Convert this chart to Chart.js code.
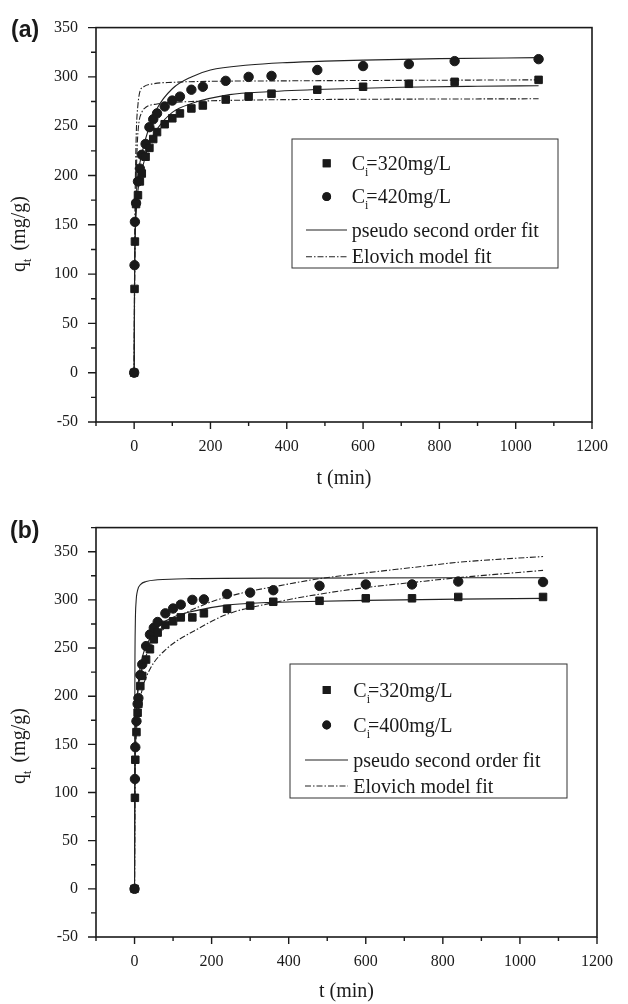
<!DOCTYPE html>
<html>
<head>
<meta charset="utf-8">
<script src="https://cdn.jsdelivr.net/npm/chart.js@4.4.1/dist/chart.umd.min.js"></script>
<style>
  html, body { margin: 0; padding: 0; background: #fff; }
  #wrap { position: relative; width: 628px; height: 1004px; }
  .painel { position: absolute; left: 0; width: 628px; }
</style>
</head>
<body>
<div id="wrap">
  <div class="painel" style="top:0;height:500px"><canvas id="graficoA"></canvas></div>
  <div class="painel" style="top:500px;height:504px"><canvas id="graficoB"></canvas></div>
</div>
<script>
// eixos
const xTicks = [0, 200, 400, 600, 800, 1000, 1200];
const yTicks = [-50, 0, 50, 100, 150, 200, 250, 300, 350];

// (a) pontos experimentais
const tempoA = [0, 1, 2, 5, 10, 15, 20, 30, 40, 50, 60, 80, 100, 120, 150, 180, 240, 300, 360, 480, 600, 720, 840, 1060];
const q320A = [0, 85, 133, 171, 180, 194, 202, 219, 228, 237, 244, 252, 258, 263, 268, 271, 277, 280, 283, 287, 290, 293, 295, 297];
const q420A = [0, 109, 153, 172, 194, 207, 221, 232, 249, 257, 263, 270, 276, 280, 287, 290, 296, 300, 301, 307, 311, 313, 316, 318];

// (a) ajustes
const tPso420A = [0, 1, 3, 5, 10, 20, 40, 60, 100, 150, 200, 300, 400, 500, 600, 800, 1060];
const qPso420A = [0, 95, 150, 175, 200, 222, 250, 268, 288, 300, 307, 312, 314.5, 316, 317, 318.5, 319.5];
const tPso320A = [0, 1, 3, 5, 10, 20, 30, 40, 60, 100, 150, 250, 350, 500, 700, 900, 1060];
const qPso320A = [0, 85, 140, 160, 185, 205, 220, 233, 247, 264, 273, 282, 285, 287.5, 289.5, 290.5, 291];
const tElo420A = [0, 1, 2, 4, 6, 10, 15, 25, 50, 100, 200, 400, 700, 1060];
const qElo420A = [0, 100, 160, 215, 248, 272, 285, 290, 293, 294.5, 295.5, 296, 296.5, 297];
const tElo320A = [0, 2, 5, 8, 12, 20, 30, 60, 150, 300, 600, 1060];
const qElo320A = [0, 120, 190, 230, 252, 264, 269, 272.5, 275, 276.5, 277.3, 277.8];

// (b) pontos experimentais
const tempoB = [0, 1, 2, 5, 8, 10, 15, 20, 30, 40, 50, 60, 80, 100, 120, 150, 180, 240, 300, 360, 480, 600, 720, 840, 1060];
const q320B = [0, 94.5, 134, 162.7, 182.8, 192, 210.5, 221, 238, 248.7, 259, 266, 274, 277.7, 281.8, 281.8, 286, 290.7, 294, 298, 299, 301.6, 301.6, 303, 303];
const q400B = [0, 114, 147, 174, 192, 198, 222, 233, 252, 264, 271, 277, 286, 291, 295, 300, 300.5, 306, 307.5, 310, 314.5, 316, 316, 319, 318.5];

// (b) ajustes
const tPso400B = [0, 0.5, 1, 2, 4, 8, 16, 30, 60, 150, 400, 1060];
const qPso400B = [0, 150, 230, 275, 298, 310, 316, 319, 320.8, 322, 322.6, 323];
const tPso320B = [0, 1, 2, 5, 10, 20, 30, 50, 60, 100, 150, 240, 330, 420, 600, 840, 1060];
const qPso320B = [0, 95, 135, 180, 215, 240, 252, 266, 272, 282, 288, 294.5, 297, 298, 299.5, 300.8, 301.5];
const tElo400B = [0, 1, 2, 5, 10, 20, 50, 100, 180, 240, 300, 360, 480, 600, 720, 840, 1060];
const qElo400B = [0, 140, 160, 188, 209, 230, 257, 278, 295, 303, 309, 313.5, 322, 328, 333.5, 339, 345];
const tElo320B = [0, 1, 2, 5, 10, 20, 40, 80, 165, 240, 360, 480, 600, 720, 840, 1060];
const qElo320B = [0, 110, 135, 163, 185, 207, 228, 248, 270, 285, 297, 305.9, 312.8, 318, 323, 330.6];

const serif = "'Liberation Serif', 'Times New Roman', serif";
const tinta = '#1a1a1a';

const pts = (ts, qs) => ts.map((t, i) => ({ x: t, y: qs[i] }));

function pontos(label, ts, qs, estilo) {
  return {
    label, data: pts(ts, qs), showLine: false, inLegend: true,
    pointStyle: estilo, pointRadius: estilo === 'rect' ? 5.3 : 4.7,
    backgroundColor: tinta, borderColor: tinta, borderWidth: 1
  };
}

function curva(label, ts, qs, tracejado, legenda) {
  return {
    label, data: pts(ts, qs), showLine: true, inLegend: legenda,
    pointRadius: 0, borderWidth: 1.1, borderColor: '#222',
    borderDash: tracejado ? [6, 2, 1.5, 2] : [],
    cubicInterpolationMode: 'monotone', fill: false
  };
}

// texto com subscrito: "C_i=320" -> C, i, =320
function textoSub(ctx, s, x, y, size) {
  const k = s.indexOf('_');
  ctx.font = size + 'px ' + serif;
  if (k < 0) { ctx.fillText(s, x, y); return; }
  const a = s.slice(0, k), sub = s[k + 1], resto = s.slice(k + 2);
  ctx.fillText(a, x, y);
  let w = ctx.measureText(a).width;
  ctx.font = Math.round(size * 0.62) + 'px ' + serif;
  ctx.fillText(sub, x + w, y + size * 0.3);
  w += ctx.measureText(sub).width * 0.4;
  ctx.font = size + 'px ' + serif;
  ctx.fillText(resto, x + w, y);
}

function larguraSub(ctx, s, size) {
  const k = s.indexOf('_');
  ctx.font = size + 'px ' + serif;
  if (k < 0) return ctx.measureText(s).width;
  let w = ctx.measureText(s.slice(0, k)).width + ctx.measureText(s.slice(k + 2)).width;
  ctx.font = Math.round(size * 0.62) + 'px ' + serif;
  return w + ctx.measureText(s[k + 1]).width;
}

function menores(ticks, min, max) {
  const passo = ticks[1] - ticks[0];
  const out = [];
  for (let v = ticks[0] - passo / 2; v <= max; v += passo) if (v >= min) out.push(v);
  return out;
}

const deco = {
  id: 'deco',
  afterDraw(chart, args, o) {
    const ctx = chart.ctx, a = chart.chartArea;
    const xs = chart.scales.x, ys = chart.scales.y;
    ctx.save();
    ctx.strokeStyle = tinta;
    ctx.fillStyle = tinta;

    // moldura
    ctx.lineWidth = 1.6;
    ctx.strokeRect(a.left, a.top, a.right - a.left, a.bottom - a.top);

    // marcas dos eixos
    ctx.lineWidth = 1.4;
    ctx.beginPath();
    xTicks.forEach(v => { const p = xs.getPixelForValue(v); ctx.moveTo(p, a.bottom); ctx.lineTo(p, a.bottom + 7); });
    menores(xTicks, xs.min, xs.max).forEach(v => { const p = xs.getPixelForValue(v); ctx.moveTo(p, a.bottom); ctx.lineTo(p, a.bottom + 4); });
    yTicks.forEach(v => { const p = ys.getPixelForValue(v); ctx.moveTo(a.left, p); ctx.lineTo(a.left - 8, p); });
    menores(yTicks, ys.min, ys.max).forEach(v => { const p = ys.getPixelForValue(v); ctx.moveTo(a.left, p); ctx.lineTo(a.left - 5, p); });
    ctx.stroke();

    // letra do painel
    ctx.font = 'bold 23px "Liberation Sans", Arial, sans-serif';
    ctx.textBaseline = 'middle';
    ctx.textAlign = 'left';
    ctx.fillText(o.painel, o.painelX, o.painelY);

    // titulos dos eixos
    ctx.textBaseline = 'alphabetic';
    ctx.font = '20px ' + serif;
    ctx.textAlign = 'center';
    ctx.fillText(o.tituloX, (a.left + a.right) / 2, o.tituloXY);

    ctx.save();
    ctx.translate(o.tituloYX, o.tituloYY);
    ctx.rotate(-Math.PI / 2);
    ctx.textAlign = 'left';
    const wy = larguraSub(ctx, o.tituloY, 20);
    textoSub(ctx, o.tituloY, -wy / 2, 0, 20);
    ctx.restore();

    // legenda
    const L = o.legenda;
    ctx.lineWidth = 1;
    ctx.strokeStyle = '#333';
    ctx.strokeRect(L.x, L.y, L.w, L.h);
    const itens = chart.data.datasets.filter(d => d.inLegend);
    itens.forEach((d, i) => {
      const y = L.linhas[i];
      if (d.showLine) {
        ctx.save();
        ctx.strokeStyle = '#222';
        ctx.lineWidth = 1.1;
        ctx.setLineDash(d.borderDash);
        ctx.beginPath();
        ctx.moveTo(L.x0, y); ctx.lineTo(L.x1, y);
        ctx.stroke();
        ctx.restore();
      } else {
        Chart.helpers.drawPoint(ctx, { pointStyle: d.pointStyle, radius: d.pointStyle === 'rect' ? 5.6 : 4.4, rotation: 0, borderWidth: 0 }, L.xm, y);
        ctx.fillStyle = tinta;
        ctx.fill();
      }
      ctx.fillStyle = tinta;
      ctx.textAlign = 'left';
      textoSub(ctx, d.label, L.xt, y + 6.7, 20);
    });
    ctx.restore();
  }
};

function montar(id, cfg) {
  return new Chart(document.getElementById(id), {
    type: 'scatter',
    data: { datasets: cfg.datasets },
    options: {
      responsive: true,
      maintainAspectRatio: false,
      animation: false,
      events: [],
      layout: { padding: cfg.padding },
      plugins: { legend: { display: false }, tooltip: { enabled: false }, deco: cfg.deco },
      scales: {
        x: {
          type: 'linear', min: -100, max: 1200,
          afterBuildTicks: s => { s.ticks = xTicks.map(v => ({ value: v })); },
          afterFit: s => { s.height = cfg.alturaX; },
          grid: { display: false, drawTicks: false },
          border: { display: false },
          ticks: { color: tinta, padding: 15, maxRotation: 0, font: { family: serif, size: 16 }, callback: v => String(v) }
        },
        y: {
          type: 'linear', min: -50, max: cfg.yMax,
          afterBuildTicks: s => { s.ticks = yTicks.map(v => ({ value: v })); },
          afterFit: s => { s.width = 96; },
          grid: { display: false, drawTicks: false },
          border: { display: false },
          ticks: { color: tinta, padding: 18, font: { family: serif, size: 16 }, callback: v => String(v) }
        }
      }
    },
    plugins: [deco]
  });
}

montar('graficoA', {
  yMax: 350,
  alturaX: 78,
  padding: { top: 20, right: 36, left: 0, bottom: 0 },
  datasets: [
    pontos('C_i=320mg/L', tempoA, q320A, 'rect'),
    pontos('C_i=420mg/L', tempoA, q420A, 'circle'),
    curva('pseudo second order fit', tPso320A, qPso320A, false, true),
    curva('Elovich model fit', tElo320A, qElo320A, true, true),
    curva('pseudo second order fit', tPso420A, qPso420A, false, false),
    curva('Elovich model fit', tElo420A, qElo420A, true, false)
  ],
  deco: {
    painel: '(a)', painelX: 11, painelY: 31,
    tituloX: 't (min)', tituloXY: 484,
    tituloY: 'q_t  (mg/g)', tituloYX: 25, tituloYY: 233,
    legenda: { x: 292, y: 139, w: 266, h: 129, linhas: [163.3, 196.7, 230, 256.7], xm: 326.7, x0: 306, x1: 347, xt: 351.7 }
  }
});

montar('graficoB', {
  yMax: 375,
  alturaX: 67,
  padding: { top: 21, right: 20, left: 0, bottom: 0 },
  datasets: [
    pontos('C_i=320mg/L', tempoB, q320B, 'rect'),
    pontos('C_i=400mg/L', tempoB, q400B, 'circle'),
    curva('pseudo second order fit', tPso320B, qPso320B, false, true),
    curva('Elovich model fit', tElo320B, qElo320B, true, true),
    curva('pseudo second order fit', tPso400B, qPso400B, false, false),
    curva('Elovich model fit', tElo400B, qElo400B, true, false)
  ],
  deco: {
    painel: '(b)', painelX: 10, painelY: 31.5,
    tituloX: 't (min)', tituloXY: 497,
    tituloY: 'q_t  (mg/g)', tituloYX: 25, tituloYY: 245,
    legenda: { x: 290, y: 164, w: 277, h: 134, linhas: [190, 225, 260, 286], xm: 326.7, x0: 305, x1: 348, xt: 353.3 }
  }
});
</script>
</body>
</html>
